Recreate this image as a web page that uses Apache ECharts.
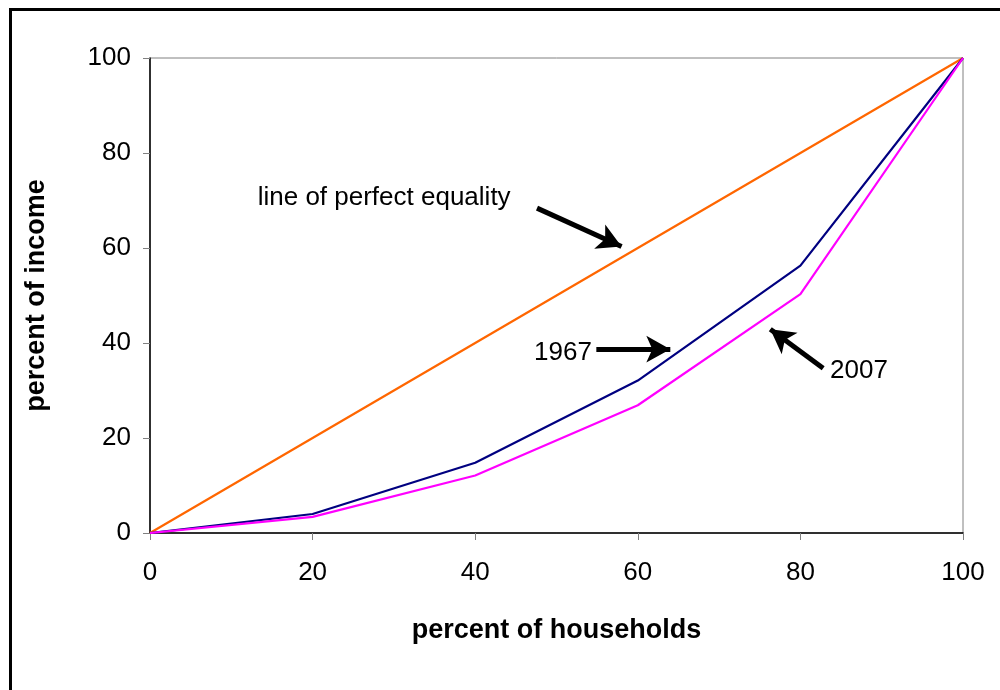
<!DOCTYPE html>
<html><head><meta charset="utf-8">
<script src="https://cdn.jsdelivr.net/npm/echarts@6/dist/echarts.min.js"></script>
<style>html,body{margin:0;padding:0;background:#fff}#c{width:1000px;height:690px}</style>
</head><body><div id="c"></div>
<script>
var households = [0, 20, 40, 60, 80, 100];
var equality = [0, 20, 40, 60, 80, 100];
var income1967 = [0, 4.0, 14.8, 32.1, 56.3, 100];
var income2007 = [0, 3.4, 12.1, 26.9, 50.3, 100];
var xTicks = [0, 20, 40, 60, 80, 100];
var yTicks = [0, 20, 40, 60, 80, 100];
var annotations = [
  {text: 'line of perfect equality', at: [28.8, 70.6]},
  {text: '1967', at: [50.8, 38.0]},
  {text: '2007', at: [87.2, 34.2]}
];
var arrows = [
  [[47.6, 68.4], [58.0, 60.3]],
  [[54.9, 38.7], [64.0, 38.7]],
  [[82.8, 34.7], [76.3, 42.9]]
];
function pairs(xs, ys){ return xs.map(function(x,i){return [x, ys[i]];}); }
var FONT = "'Liberation Sans', Arial, sans-serif";
var chart = echarts.init(document.getElementById('c'));
chart.setOption({
  animation: false,
  backgroundColor: '#fff',
  graphic: [{type:'rect', left: 8, top: 7, shape:{width: 1010, height: 710}, style:{fill:'none', stroke:'#000', lineWidth:3}, z: 100}],
  grid: {left: 150, right: 37, top: 58, bottom: 157, show: true, borderColor: '#808080', borderWidth: 1},
  xAxis: {
    type: 'value', min: 0, max: 100, interval: 20,
    name: 'percent of households', nameLocation: 'middle', nameGap: 84,
    nameTextStyle: {fontFamily: FONT, fontSize: 27, fontWeight: 'bold', color: '#000'},
    axisLine: {show: true, onZero: false, lineStyle: {color: '#000', width: 1.5}},
    axisTick: {show: true, length: 7, lineStyle: {color: '#808080'}},
    axisLabel: {fontFamily: FONT, fontSize: 26, color: '#000', margin: 27,
      formatter: function(v){ return xTicks.indexOf(v) >= 0 ? String(v) : ''; }},
    splitLine: {show: false}
  },
  yAxis: {
    type: 'value', min: 0, max: 100, interval: 20,
    name: 'percent of income', nameLocation: 'middle', nameGap: 100,
    nameTextStyle: {fontFamily: FONT, fontSize: 27, fontWeight: 'bold', color: '#000'},
    axisLine: {show: true, lineStyle: {color: '#000', width: 1.5}},
    axisTick: {show: true, length: 7, lineStyle: {color: '#808080'}},
    axisLabel: {fontFamily: FONT, fontSize: 26, color: '#000', margin: 19,
      formatter: function(v){ return yTicks.indexOf(v) >= 0 ? String(v) : ''; }},
    splitLine: {show: false}
  },
  series: [
    {type: 'line', name: 'equality', data: pairs(households, equality), symbol: 'none',
      lineStyle: {color: '#FF6600', width: 2.2}, z: 2},
    {type: 'line', name: '1967', data: pairs(households, income1967), symbol: 'none',
      lineStyle: {color: '#000080', width: 2.2}, z: 3},
    {type: 'line', name: '2007', data: pairs(households, income2007), symbol: 'none',
      lineStyle: {color: '#FF00FF', width: 2.2}, z: 4,
      markLine: {
        silent: true, symbol: ['none', 'arrow'], symbolSize: [20, 24],
        lineStyle: {color: '#000', width: 5, type: 'solid'},
        label: {show: false},
        data: arrows.map(function(a){ return [{coord: a[0]}, {coord: a[1]}]; })
      },
      markPoint: {
        silent: true, symbol: 'circle', symbolSize: 0,
        label: {show: true, position: 'inside', fontFamily: FONT, fontSize: 26, color: '#000',
          formatter: function(p){ return p.name; }},
        data: annotations.map(function(a){ return {name: a.text, coord: a.at}; })
      }
    }
  ]
});
</script></body></html>
